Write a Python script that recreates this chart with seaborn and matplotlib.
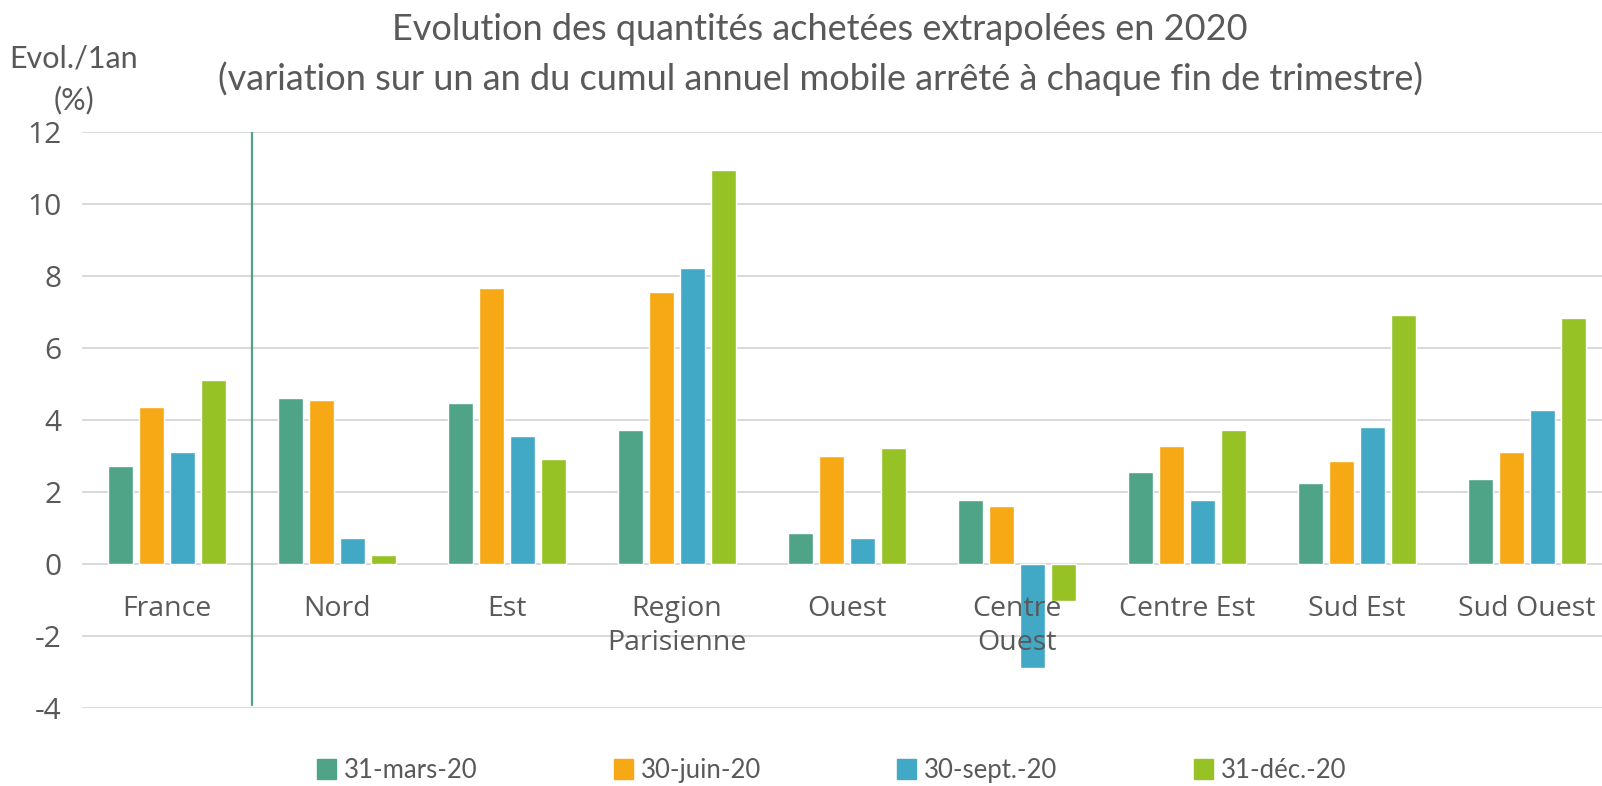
import pandas as pd
import numpy as np
import matplotlib.pyplot as plt
import seaborn as sns

# data
regions = ['France', 'Nord', 'Est', 'Region\nParisienne', 'Ouest',
           'Centre\nOuest', 'Centre Est', 'Sud Est', 'Sud Ouest']
periods = ['31-mars-20', '30-juin-20', '30-sept.-20', '31-déc.-20']
mars = [2.71, 4.61, 4.47, 3.72, 0.85, 1.77, 2.56, 2.26, 2.37]
juin = [4.37, 4.57, 7.68, 7.57, 3.01, 1.61, 3.27, 2.86, 3.12]
sept = [3.12, 0.71, 3.57, 8.22, 0.71, -2.88, 1.77, 3.82, 4.27]
dec = [5.12, 0.25, 2.91, 10.94, 3.21, -1.03, 3.72, 6.92, 6.83]
colors = ['#4fa387', '#f6a815', '#41a8c6', '#96c225']

df = pd.DataFrame({'region': regions * 4,
                   'periode': np.repeat(periods, len(regions)),
                   'evol': mars + juin + sept + dec})

sns.set_style('white')
plt.rcParams['font.family'] = ['Open Sans', 'DejaVu Sans']
plt.rcParams['axes.unicode_minus'] = False
txt = '#595959'

fig = plt.figure(figsize=(16.02, 7.86), dpi=100)
ax = fig.add_axes([0.0512, 0.0992, 0.955, 0.7328])

sns.barplot(data=df, x='region', y='evol', hue='periode', palette=colors,
            width=0.73, gap=0.22, saturation=1, ax=ax, legend=False)

ax.set_ylim(-4, 12)
ax.set_xlim(-0.5, len(regions) - 0.5)
ax.set_yticks(range(-4, 13, 2))
ax.yaxis.grid(True, color='#d9d9d9', linewidth=1.4)
ax.set_axisbelow(True)
ax.xaxis.set_zorder(5)  # labels drawn over the negative bars, like the original
for s in ax.spines.values():
    s.set_visible(False)
ax.spines['bottom'].set_position(('data', 0))
ax.set_xlabel('')
ax.set_ylabel('')
ax.tick_params(axis='x', length=0, pad=22, labelsize=20.5, labelcolor=txt)
ax.tick_params(axis='y', length=0, pad=15, labelsize=21.5, labelcolor=txt)
for t in ax.get_xticklabels():
    t.set_linespacing(1.3)

# separator between France and the regions
ax.axvline(0.5, ymin=0.006, ymax=1, color='#4fa387', linewidth=1.6)

fig.text(0.512, 0.962, 'Evolution des quantités achetées extrapolées en 2020',
         ha='center', va='center', fontsize=26, color=txt, family='Lato')
fig.text(0.512, 0.900, '(variation sur un an du cumul annuel mobile arrêté à chaque fin de trimestre)',
         ha='center', va='center', fontsize=26, color=txt, family='Lato')
fig.text(0.046, 0.925, 'Evol./1an', ha='center', va='center', fontsize=22,
         color=txt, family='Lato')
fig.text(0.046, 0.873, '(%)', ha='center', va='center', fontsize=22,
         color=txt, family='Lato')

handles = [plt.Rectangle((0, 0), 1, 1, color=c) for c in colors]
fig.legend(handles, periods, loc='center', bbox_to_anchor=(0.519, 0.02),
           ncol=4, frameon=False, handlelength=0.75, handleheight=0.85,
           handletextpad=0.3, columnspacing=5.3,
           prop={'family': 'Lato', 'size': 18.5}, labelcolor=txt)

fig.savefig('out.png', dpi=100)
